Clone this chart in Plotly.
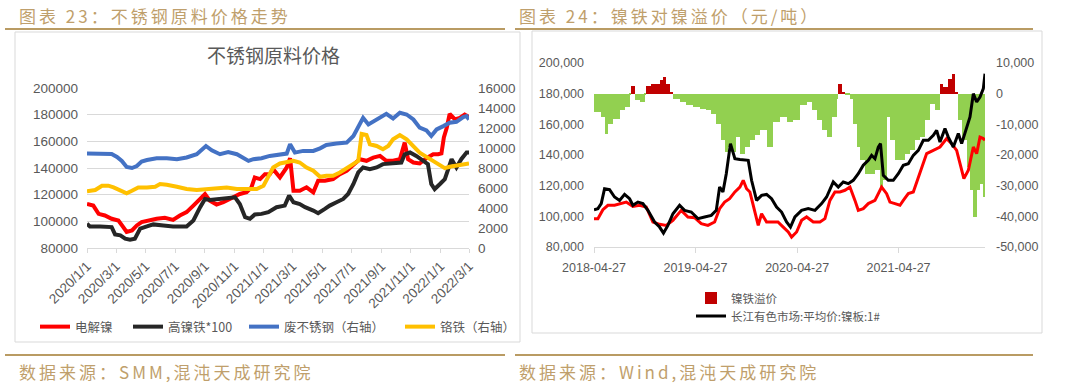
import numpy as np
import pandas as pd
import plotly.graph_objects as go

# ---------------- Left chart: 不锈钢原料价格 ----------------
ni_dates = ['2020-01-01','2020-01-14','2020-01-25','2020-02-07','2020-02-21','2020-03-06','2020-03-16','2020-03-23',
            '2020-04-03','2020-04-13','2020-04-23','2020-05-07','2020-05-24','2020-06-10','2020-06-27','2020-07-11',
            '2020-07-25','2020-08-08','2020-08-22','2020-09-01','2020-09-11','2020-09-25','2020-10-09','2020-10-23',
            '2020-11-02','2020-11-12','2020-11-26','2020-12-06','2020-12-13','2020-12-24','2021-01-03','2021-01-13',
            '2021-01-20','2021-02-03','2021-02-17','2021-02-24','2021-03-03','2021-03-16','2021-03-30','2021-04-13',
            '2021-04-23','2021-05-07','2021-05-24','2021-06-07','2021-06-21','2021-07-05','2021-07-18','2021-08-01',
            '2021-08-15','2021-08-29','2021-09-11','2021-09-25','2021-10-09','2021-10-19','2021-10-26','2021-11-06',
            '2021-11-19','2021-12-03','2021-12-17','2021-12-27','2022-01-03','2022-01-08','2022-01-14','2022-01-20',
            '2022-01-31','2022-02-10','2022-02-20','2022-03-01']
ni_vals = [113000,111800,105600,104400,101900,100600,95700,92000,
           93200,96900,99400,100600,101900,102600,101100,104400,
           106900,111800,116800,120500,115500,112600,114300,116800,
           119300,120500,121800,125500,132900,131700,135400,135400,
           139100,132900,140400,147300,123000,123000,125500,121800,
           130400,130400,131700,135400,137900,142900,146600,145400,
           147800,149100,145400,145400,146600,159000,146600,144100,
           143400,147300,150300,150300,151000,163000,170200,180600,
           176400,177600,180100,178100]

npi_dates = ['2020-01-01','2020-01-07','2020-01-28','2020-02-21','2020-02-28','2020-03-10','2020-03-20','2020-03-30',
             '2020-04-09','2020-04-20','2020-05-04','2020-05-17','2020-06-07','2020-06-27','2020-07-25','2020-08-08',
             '2020-08-22','2020-09-01','2020-09-11','2020-10-02','2020-10-23','2020-11-02','2020-11-12','2020-11-23',
             '2020-12-03','2020-12-13','2020-12-27','2021-01-10','2021-01-27','2021-02-13','2021-02-22','2021-03-03',
             '2021-03-16','2021-03-27','2021-04-13','2021-04-23','2021-05-07','2021-05-17','2021-05-31','2021-06-14',
             '2021-06-24','2021-07-05','2021-07-15','2021-07-25','2021-08-08','2021-08-22','2021-09-04','2021-09-18',
             '2021-10-02','2021-10-12','2021-10-19','2021-10-30','2021-11-12','2021-11-26','2021-12-06','2021-12-13',
             '2021-12-20','2021-12-31','2022-01-10','2022-01-17','2022-01-24','2022-02-03','2022-02-13','2022-02-24',
             '2022-03-01']
npi_vals = [98200,96200,96200,95700,90200,89500,87000,86200,
            87000,94500,96200,97700,96900,96200,96200,100600,
            110600,116800,116000,116800,118000,118000,113000,103100,
            101900,105100,105600,106900,110600,111800,119300,114300,
            113000,110600,108100,106100,109300,111800,114300,116800,
            120500,128000,136700,140400,139100,140400,142900,143400,
            144100,144100,150300,151600,149100,145900,142900,128000,
            124200,128000,131700,139100,146600,140400,146600,151600,
            151600]

scrap_dates = ['2020-01-01','2020-02-21','2020-03-03','2020-03-13','2020-03-23','2020-04-03','2020-04-13','2020-04-23',
               '2020-05-04','2020-05-24','2020-06-14','2020-07-05','2020-07-25','2020-08-15','2020-09-03','2020-09-15',
               '2020-10-02','2020-10-19','2020-11-06','2020-11-19','2020-11-30','2020-12-10','2020-12-27','2021-01-13',
               '2021-02-03','2021-02-17','2021-02-24','2021-03-06','2021-03-23','2021-04-13','2021-04-27','2021-05-10',
               '2021-05-31','2021-06-21','2021-07-05','2021-07-15','2021-07-25','2021-08-05','2021-08-15','2021-08-29',
               '2021-09-11','2021-09-25','2021-10-09','2021-10-23','2021-11-06','2021-11-19','2021-12-03','2021-12-13',
               '2021-12-24','2022-01-07','2022-01-20','2022-02-03','2022-02-17','2022-02-24','2022-03-01']
scrap_vals = [9450,9400,9100,8700,8100,8000,8200,8650,
              8800,8980,8980,8880,9050,9380,10200,9770,
              9380,9600,9380,8980,8710,8880,8980,9210,
              9380,9440,10370,9540,9710,9710,9970,10300,
              10440,10540,11200,12190,13020,12360,12620,13020,
              13420,12950,13520,13350,12850,12030,11760,11200,
              11860,12190,12520,12620,13090,13190,12850]

crfe_dates = ['2020-01-01','2020-01-18','2020-02-01','2020-02-14','2020-02-25','2020-03-10','2020-03-23','2020-04-03',
              '2020-04-16','2020-05-04','2020-05-21','2020-05-31','2020-06-14','2020-07-05','2020-07-25','2020-08-15',
              '2020-09-04','2020-09-25','2020-10-16','2020-11-06','2020-11-26','2020-12-17','2020-12-31','2021-01-10',
              '2021-01-20','2021-02-03','2021-02-17','2021-03-03','2021-03-16','2021-03-30','2021-04-13','2021-04-27',
              '2021-05-10','2021-05-24','2021-06-07','2021-06-21','2021-07-05','2021-07-15','2021-07-22','2021-08-01',
              '2021-08-08','2021-08-22','2021-09-04','2021-09-15','2021-09-25','2021-10-09','2021-10-23','2021-11-06',
              '2021-11-19','2021-12-03','2021-12-17','2021-12-31','2022-01-10','2022-01-20','2022-02-03','2022-02-17',
              '2022-03-01']
crfe_vals = [5670,5800,6230,6230,6060,5800,5470,5730,
             6060,6060,6130,6390,6330,6130,5900,5800,
             5900,5960,6060,5900,5900,5900,6230,7060,
             8050,8450,8550,8710,8550,8050,7720,7120,
             7220,7220,7550,7980,8380,8710,11400,11300,
             10370,10200,9870,10200,10870,11300,10870,10200,
             9540,9110,8710,8220,7980,8120,8220,8320,
             8450]

left_tick_dates = ['2020-01-01','2020-03-01','2020-05-01','2020-07-01','2020-09-01','2020-11-01','2021-01-01',
                   '2021-03-01','2021-05-01','2021-07-01','2021-09-01','2021-11-01','2022-01-01','2022-03-01']
left_tick_text = ['2020/1/1','2020/3/1','2020/5/1','2020/7/1','2020/9/1','2020/11/1','2021/1/1',
                  '2021/3/1','2021/5/1','2021/7/1','2021/9/1','2021/11/1','2022/1/1','2022/3/1']
left_y_ticks = [80000,100000,120000,140000,160000,180000,200000]
left_y_text = ['80000','100000','120000','140000','160000','180000','200000']
left_y2_ticks = [0,2000,4000,6000,8000,10000,12000,14000,16000]
left_y2_text = ['0','2000','4000','6000','8000','10000','12000','14000','16000']

# ---------------- Right chart: 镍铁对镍溢价 ----------------
plate_dates = ['2018-04-27','2018-05-11','2018-05-23','2018-06-04','2018-06-22','2018-07-10','2018-07-28','2018-08-15','2018-09-02','2018-09-14',
               '2018-10-02','2018-10-20','2018-11-07','2018-12-01','2018-12-19','2019-01-02','2019-01-18','2019-02-05','2019-03-01','2019-03-19',
               '2019-04-12','2019-05-06','2019-05-30','2019-06-23','2019-07-11','2019-07-23','2019-08-04','2019-08-16','2019-08-31','2019-09-16',
               '2019-10-04','2019-10-22','2019-11-03','2019-11-15','2019-12-03','2019-12-21','2020-01-08','2020-01-26','2020-02-13','2020-03-02',
               '2020-03-20','2020-04-03','2020-04-19','2020-05-13','2020-06-06','2020-06-30','2020-07-24','2020-08-11','2020-09-04','2020-09-22',
               '2020-10-10','2020-10-28','2020-11-15','2020-12-03','2020-12-21','2021-01-08','2021-01-20','2021-02-01','2021-02-13','2021-02-21',
               '2021-03-03','2021-03-21','2021-04-08','2021-04-26','2021-05-14','2021-06-01','2021-06-19','2021-07-07','2021-07-25','2021-08-12',
               '2021-08-30','2021-09-11','2021-09-23','2021-10-11','2021-10-23','2021-11-10','2021-11-28','2021-12-10','2021-12-28','2022-01-09',
               '2022-01-21','2022-02-02','2022-02-14','2022-02-26','2022-03-04']
plate_vals = [104300,105000,108300,118000,117400,112600,110400,114300,111500,107200,
              109300,108300,103900,96300,93000,89100,94100,101700,107200,103900,
              102800,98500,99600,100600,103900,119100,115900,127800,147400,137600,
              137000,136500,136500,123500,110400,113700,114300,111500,106100,102800,
              96300,93000,99600,103900,105000,103900,108300,112600,122400,119100,
              122400,121300,123500,127800,133300,136500,139800,137600,145200,147400,
              126700,123500,123500,127800,133300,134300,139800,143000,149600,149600,
              152800,156100,148500,157200,151700,145200,154000,147400,158300,164800,
              180000,174600,177800,183300,193000]

npi2_dates = ['2018-04-27','2018-05-11','2018-05-29','2018-06-16','2018-07-10','2018-07-28','2018-08-21','2018-09-14','2018-10-08','2018-11-01',
              '2018-11-25','2018-12-19','2019-01-12','2019-02-05','2019-03-07','2019-03-31','2019-04-24','2019-05-18','2019-06-11','2019-07-05',
              '2019-07-23','2019-08-10','2019-08-28','2019-09-16','2019-10-04','2019-10-16','2019-10-28','2019-11-09','2019-11-27','2019-12-09',
              '2019-12-21','2020-01-08','2020-01-31','2020-02-18','2020-03-08','2020-03-26','2020-04-07','2020-04-25','2020-05-13','2020-05-31',
              '2020-06-24','2020-07-18','2020-08-05','2020-08-23','2020-09-10','2020-09-28','2020-10-16','2020-11-03','2020-11-21','2020-12-03',
              '2020-12-21','2021-01-08','2021-02-01','2021-02-13','2021-02-25','2021-03-15','2021-03-27','2021-04-14','2021-05-02','2021-05-14',
              '2021-06-01','2021-06-19','2021-07-01','2021-07-19','2021-08-06','2021-08-30','2021-09-23','2021-10-17','2021-11-04','2021-11-22',
              '2021-12-06','2021-12-18','2022-01-03','2022-01-21','2022-02-02','2022-02-14','2022-02-26','2022-03-04']
npi2_vals = [98500,98500,104300,107200,107200,108300,109300,106500,107200,106100,
             96300,94800,94100,97400,103900,99600,99100,95200,94100,96300,
             105000,109300,111500,115900,119100,123500,118000,115900,103900,94100,
             101700,96300,96300,96300,93000,89800,86500,89800,97400,99600,
             96300,96300,98500,110400,115900,115900,117000,119100,110400,103900,
             105000,108300,110400,114800,119100,114800,109300,108300,107200,110400,
             114800,115900,122400,132200,140900,143000,145200,150700,147400,143000,
             132200,124600,130000,145200,140900,151700,150700,149600]

prem_dates = ['2018-04-27','2018-05-11','2018-05-23','2018-06-04','2018-06-16','2018-07-04','2018-07-28','2018-08-15','2018-09-02','2018-09-08',
              '2018-09-20','2018-10-08','2018-10-26','2018-11-01','2018-11-19','2018-12-07','2018-12-22','2019-01-01','2019-01-12','2019-01-24',
              '2019-02-05','2019-03-01','2019-03-25','2019-04-18','2019-05-12','2019-06-05','2019-06-23','2019-07-11','2019-07-29','2019-08-10',
              '2019-08-22','2019-09-03','2019-09-21','2019-10-04','2019-10-22','2019-11-09','2019-11-27','2019-12-15','2020-01-08','2020-01-31',
              '2020-02-24','2020-03-20','2020-04-13','2020-05-07','2020-05-31','2020-06-18','2020-07-06','2020-07-24','2020-08-11','2020-08-29',
              '2020-09-16','2020-09-22','2020-10-04','2020-10-16','2020-11-03','2020-11-15','2020-11-27','2020-12-09','2020-12-27','2021-01-14',
              '2021-02-01','2021-02-19','2021-03-03','2021-03-15','2021-03-27','2021-04-14','2021-05-02','2021-05-20','2021-06-07','2021-06-25',
              '2021-07-13','2021-07-31','2021-08-18','2021-09-05','2021-09-23','2021-10-05','2021-10-23','2021-11-04','2021-11-16','2021-11-28',
              '2021-12-10','2021-12-28','2022-01-09','2022-01-21','2022-02-02','2022-02-14','2022-02-26','2022-03-04']
prem_vals = [-6000,-6000,-7600,-13000,-9800,-8200,-5400,-4300,-500,2500,
             -2200,-2700,-300,2500,3000,3200,4500,5400,3000,500,
             -1600,-2700,-3800,-4300,-4900,-5400,-6500,-9800,-15200,-19000,
             -17400,-19000,-14100,-19600,-17400,-15200,-13600,-12000,-17400,-9200,
             -7600,-9200,-8700,-3800,-2700,-5400,-8700,-12000,-14100,-7600,
             -1600,3300,500,-500,-1600,-9800,-17400,-21700,-26100,-26100,
             -25000,-30400,-28300,-7600,-15200,-21700,-21700,-19600,-18500,-15200,
             -14100,-8700,-3300,-5400,3300,2200,4900,6500,500,-8700,
             -15200,-23900,-31500,-40200,-31500,-29300,-33700,-43000]

right_tick_dates = ['2018-04-27','2019-04-27','2020-04-27','2021-04-27']
right_tick_text = ['2018-04-27','2019-04-27','2020-04-27','2021-04-27']
right_y_ticks = [80000,100000,120000,140000,160000,180000,200000]
right_y_text = ['80,000','100,000','120,000','140,000','160,000','180,000','200,000']
right_y2_ticks = [-50000,-40000,-30000,-20000,-10000,0,10000]
right_y2_text = ['-50,000','-40,000','-30,000','-20,000','-10,000','0','10,000']

# ---------------- figure ----------------
W, H = 1080, 385
def px(x):
    return x / W
def py(y):
    return 1 - y / H

FONT = "Liberation Sans, Noto Sans CJK SC, sans-serif"
CJK = "Noto Sans CJK SC, Liberation Sans, sans-serif"
GRAY = "#595959"
GOLD_TXT = "#bf9f6c"
GOLD_LINE = "#b99b63"
GRID = "#d9d9d9"

fig = go.Figure()
fig.add_trace(go.Scatter(x=ni_dates, y=ni_vals, name='电解镍', mode='lines',
                         line=dict(color='#ff0000', width=4), xaxis='x', yaxis='y', legend='legend'))
fig.add_trace(go.Scatter(x=npi_dates, y=npi_vals, name='高镍铁*100', mode='lines',
                         line=dict(color='#262626', width=4), xaxis='x', yaxis='y', legend='legend2'))
fig.add_trace(go.Scatter(x=scrap_dates, y=scrap_vals, name='废不锈钢（右轴）', mode='lines',
                         line=dict(color='#4472c4', width=4), xaxis='x', yaxis='y2', legend='legend3'))
fig.add_trace(go.Scatter(x=crfe_dates, y=crfe_vals, name='铬铁（右轴）', mode='lines',
                         line=dict(color='#ffc000', width=4), xaxis='x', yaxis='y2', legend='legend4'))

prem = np.array(prem_vals, dtype=float)
pdates = pd.to_datetime(prem_dates)
ms = pdates.values.astype('datetime64[ms]').astype('int64').astype(float)
gaps = np.diff(ms)
widths = np.append(gaps, gaps[-1])
neg = prem < 0
fig.add_trace(go.Bar(x=pdates[neg], y=prem[neg], width=widths[neg], offset=0, name='镍铁溢价',
                     marker=dict(color='#92d050', line=dict(width=0)), xaxis='x2', yaxis='y3',
                     showlegend=False))
fig.add_trace(go.Bar(x=pdates[~neg], y=prem[~neg], width=widths[~neg], offset=0, name='镍铁溢价',
                     marker=dict(color='#c00000', line=dict(width=0)), xaxis='x2', yaxis='y3',
                     legend='legend5'))
fig.add_trace(go.Scatter(x=npi2_dates, y=npi2_vals, name='镍铁价格', mode='lines',
                         line=dict(color='#ff0000', width=3), xaxis='x2', yaxis='y4', showlegend=False))
fig.add_trace(go.Scatter(x=plate_dates, y=plate_vals, name='长江有色市场:平均价:镍板:1#', mode='lines',
                         line=dict(color='#000000', width=3), xaxis='x2', yaxis='y4', legend='legend6'))

tickfont_l = dict(family=FONT, size=13.5, color=GRAY)
tickfont_r = dict(family=FONT, size=12.5, color=GRAY)

def legend_at(x, y, size):
    return dict(x=px(x), y=py(y), xanchor='left', yanchor='middle', orientation='h',
                bgcolor='rgba(0,0,0,0)', borderwidth=0,
                font=dict(family=CJK, size=size, color=GRAY))

def spaced(t):
    return '<span style="letter-spacing:3px">' + t + '</span>'

annotations = [
    dict(text=spaced('图表 23：不锈钢原料价格走势'), x=px(17), y=py(15)),
    dict(text=spaced('图表 24：镍铁对镍溢价（元/吨）'), x=px(517), y=py(15)),
    dict(text=spaced('数据来源：SMM,混沌天成研究院'), x=px(17), y=py(371)),
    dict(text=spaced('数据来源：Wind,混沌天成研究院'), x=px(517), y=py(371)),
]
for a in annotations:
    a.update(xref='paper', yref='paper', xanchor='left', yanchor='middle', showarrow=False,
             font=dict(family=CJK, size=17, color=GOLD_TXT))
annotations.append(dict(text='不锈钢原料价格', x=px(273), y=py(55), xref='paper', yref='paper',
                        xanchor='center', yanchor='middle', showarrow=False,
                        font=dict(family=CJK, size=19, color=GRAY)))

shapes = []
for (x0, x1) in [(5, 505), (515, 1033)]:
    for yy in [29, 355]:
        shapes.append(dict(type='line', xref='paper', yref='paper', x0=px(x0), x1=px(x1), y0=py(yy), y1=py(yy),
                           line=dict(color=GOLD_LINE, width=2)))
shapes.append(dict(type='rect', xref='paper', yref='paper', x0=px(15), x1=px(520), y0=py(342), y1=py(32),
                   line=dict(color=GRID, width=1), layer='below'))
shapes.append(dict(type='rect', xref='paper', yref='paper', x0=px(532), x1=px(1042), y0=py(333), y1=py(31),
                   line=dict(color=GRID, width=1), layer='below'))

fig.update_layout(
    width=W, height=H, autosize=False,
    margin=dict(l=0, r=0, t=0, b=0, pad=0, autoexpand=False),
    paper_bgcolor='white', plot_bgcolor='rgba(0,0,0,0)',
    font=dict(family=FONT, color=GRAY),
    barmode='overlay', bargap=0,
    xaxis=dict(domain=[px(87), px(469)], anchor='y', type='date', range=['2020-01-01', '2022-03-01'],
               tickmode='array', tickvals=left_tick_dates, ticktext=left_tick_text, tickangle=-45,
               tickfont=tickfont_l, showline=True, linecolor=GRID, linewidth=1, ticks='outside', ticklen=4,
               tickcolor=GRID, showgrid=False, zeroline=False),
    yaxis=dict(domain=[py(248), py(88)], anchor='x', range=[80000, 200000], tickmode='array',
               tickvals=left_y_ticks, ticktext=left_y_text, showgrid=True, gridcolor=GRID, gridwidth=1,
               zeroline=False, tickfont=tickfont_l, ticklabelstandoff=8),
    yaxis2=dict(overlaying='y', side='right', anchor='x', range=[0, 16000], tickmode='array',
                tickvals=left_y2_ticks, ticktext=left_y2_text, showgrid=False, zeroline=False,
                tickfont=tickfont_l, ticklabelstandoff=8),
    xaxis2=dict(domain=[px(594), px(985)], anchor='y3', type='date', range=['2018-04-27', '2022-03-04'],
                tickmode='array', tickvals=right_tick_dates, ticktext=right_tick_text, tickangle=0,
                tickfont=tickfont_r, showline=True, linecolor=GRID, linewidth=1, ticks='outside', ticklen=5,
                tickcolor=GRID, showgrid=False, zeroline=False, ticklabelstandoff=4),
    yaxis3=dict(domain=[py(247), py(63)], anchor='x2', side='right', range=[-50000, 10000], tickmode='array',
                tickvals=right_y2_ticks, ticktext=right_y2_text, showgrid=False, zeroline=False,
                tickfont=tickfont_r, ticklabelstandoff=10),
    yaxis4=dict(overlaying='y3', side='left', anchor='x2', range=[80000, 200000], tickmode='array',
                tickvals=right_y_ticks, ticktext=right_y_text, showgrid=False, zeroline=False,
                tickfont=tickfont_r, ticklabelstandoff=9),
    legend=legend_at(35, 327, 12.5),
    legend2=legend_at(128, 327, 12.5),
    legend3=legend_at(244, 327, 12.5),
    legend4=legend_at(400, 327, 12.5),
    legend5=legend_at(691, 298, 11.5),
    legend6=legend_at(691, 316, 11.5),
    annotations=annotations,
    shapes=shapes,
)

fig.write_html("out.html", config={'displayModeBar': False},
               post_script="document.body.style.margin='0';document.body.style.overflow='hidden';")
